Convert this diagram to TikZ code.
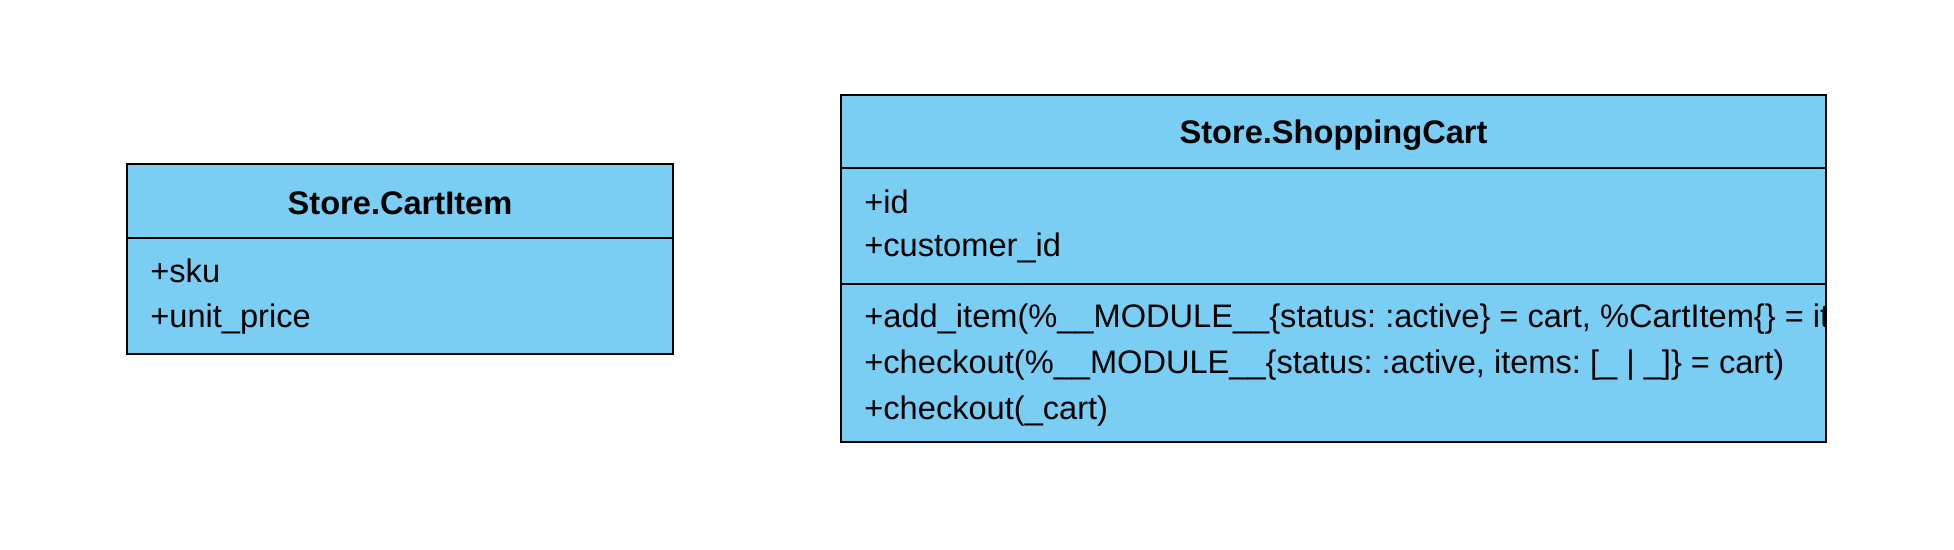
\documentclass[tikz,border=0pt]{standalone}
\usepackage{fontspec}
\setmainfont{Liberation Sans}
\frenchspacing
\definecolor{classblue}{HTML}{7ACEF4}
\tikzset{
  classbox/.style={draw=black, fill=classblue, line width=1.1pt},
  classtitle/.style={font=\fontsize{16.3}{19}\selectfont\bfseries, inner sep=0pt},
  member/.style={anchor=west, font=\fontsize{16.3}{19}\selectfont, inner sep=0pt},
}
\begin{document}
\begin{tikzpicture}[x=0.5pt,y=-0.5pt]
\fill[white] (0,0) rectangle (1954,550);
\useasboundingbox (0,0) rectangle (1954,550);

% CartItem class
\draw[classbox] (127,164) rectangle (673,354);
\draw[line width=1.1pt] (127,238) -- (673,238);
\node[classtitle] (cartitem) at (400,203) {Store.CartItem};
\node[member] (sku) at (150,271) {+sku};
\node[member] (price) at (150,319) {+unit\_price};

% ShoppingCart class
\fill[classblue] (841,95) rectangle (1826,442);
\begin{scope}
  \clip (841,95) rectangle (1826,442);
  \node[classtitle] (cart) at (1333.5,135) {Store.ShoppingCart};
  \node[member] (id) at (864,202) {+id};
  \node[member] (customer) at (864,248) {+customer\_id};
  \node[member] (additem) at (864,319) {+add\_item(\%\_\_MODULE\_\_\{status: :active\} = cart, \%CartItem\{\} = item)};
  \node[member] (checkout) at (864,365) {+checkout(\%\_\_MODULE\_\_\{status: :active, items: [\_ | \_]\} = cart)};
  \node[member] (checkoutcart) at (864,411) {+checkout(\_cart)};
\end{scope}
\draw[classbox, fill=none] (841,95) rectangle (1826,442);
\draw[line width=1.1pt] (841,168) -- (1826,168);
\draw[line width=1.1pt] (841,284) -- (1826,284);
\end{tikzpicture}
\end{document}
